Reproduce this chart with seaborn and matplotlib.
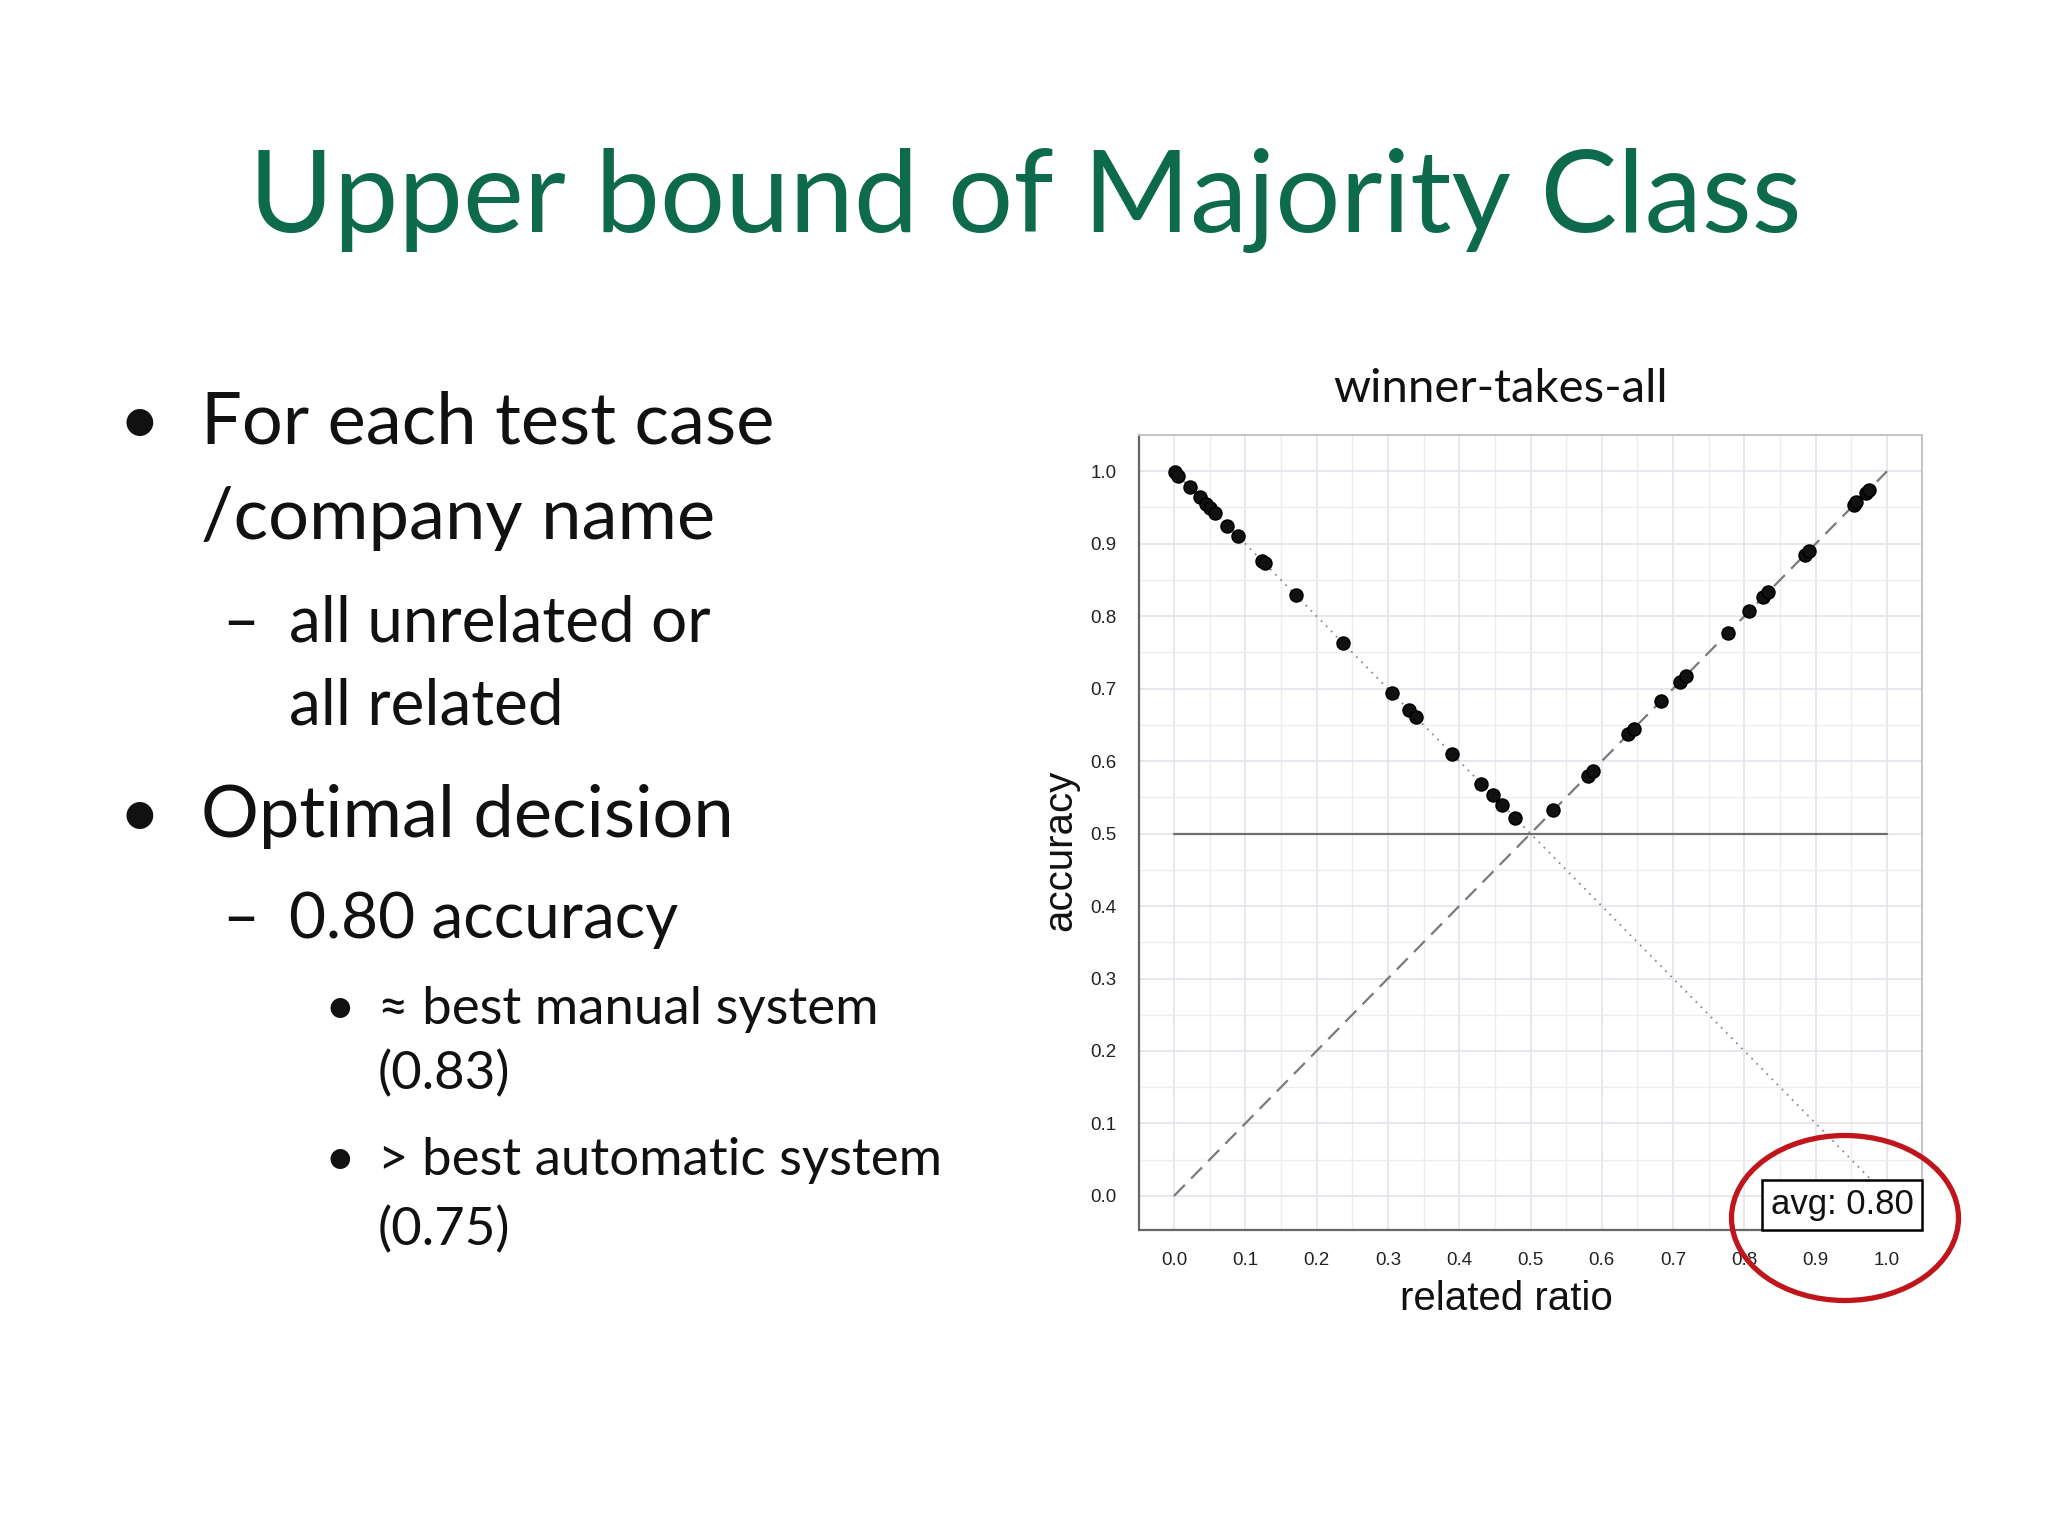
import matplotlib
matplotlib.use("Agg")
import matplotlib.pyplot as plt
from matplotlib.patches import Ellipse
from matplotlib.ticker import MultipleLocator
import seaborn as sns
import pandas as pd

# --- data ---
# left branch: accuracy = 1 - related ratio
left_ratio = [0.001, 0.006, 0.022, 0.036, 0.045, 0.051, 0.057, 0.075, 0.090, 0.124,
              0.127, 0.171, 0.237, 0.306, 0.329, 0.339, 0.390, 0.431, 0.447, 0.460, 0.478]
left_acc = [0.999, 0.994, 0.978, 0.964, 0.955, 0.949, 0.943, 0.925, 0.910, 0.876,
            0.873, 0.829, 0.763, 0.694, 0.671, 0.661, 0.610, 0.569, 0.553, 0.540, 0.522]
# right branch: accuracy = related ratio
right_ratio = [0.532, 0.580, 0.587, 0.637, 0.645, 0.683, 0.709, 0.718, 0.777, 0.807,
               0.826, 0.833, 0.885, 0.890, 0.953, 0.957, 0.970, 0.974]
right_acc = [0.532, 0.580, 0.587, 0.637, 0.645, 0.683, 0.709, 0.718, 0.777, 0.807,
             0.826, 0.833, 0.885, 0.890, 0.953, 0.957, 0.970, 0.974]

# reference lines
ref_x = [0.0, 1.0]
ref_up = [0.0, 1.0]
ref_down = [1.0, 0.0]
ref_chance = [0.5, 0.5]

tick_vals = [0.0, 0.1, 0.2, 0.3, 0.4, 0.5, 0.6, 0.7, 0.8, 0.9, 1.0]
avg_label = "avg: 0.80"

title = "Upper bound of Majority Class"
bullets = [
    # (level, text) -- level 0 means continuation line
    (1, "For each test case"),
    (0, "/company name"),
    (2, "all unrelated or"),
    (0, "all related"),
    (1, "Optimal decision"),
    (2, "0.80 accuracy"),
    (3, "\u2248 best manual system"),
    (0, "(0.83)"),
    (3, "> best automatic system"),
    (0, "(0.75)"),
]

points = pd.DataFrame({
    "ratio": left_ratio + right_ratio,
    "acc": left_acc + right_acc,
})

sns.set_theme(style="white")
plt.rcParams["font.family"] = ["Liberation Sans", "DejaVu Sans"]

fig = plt.figure(figsize=(20.48, 15.36), dpi=100)
fig.patch.set_facecolor("white")

# slide text
slide_font = ["Lato", "DejaVu Sans"]
fig.text(0.5005, 1 - 232 / 1536, title, color="#0d6a4d", fontsize=83,
         family=slide_font, ha="center", va="baseline")

baselines = [444, 539, 642, 724, 837, 938, 1024, 1089, 1175, 1245]
# level: (marker x, text x, font size) in pixels / points
levels_x = {1: (118, 201, 52), 2: (222, 289, 46), 3: (324, 378, 38)}
cur = 1
for (lvl, txt), yb in zip(bullets, baselines):
    if lvl:
        cur = lvl
        mark_x, text_x, size = levels_x[lvl]
        mark = "\u2022" if lvl != 2 else "\u2013"
        fig.text(mark_x / 2048, 1 - yb / 1536, mark, fontsize=size,
                 family=slide_font, color="#111111", va="baseline")
    else:
        mark_x, text_x, size = levels_x[cur]
    fig.text(text_x / 2048, 1 - yb / 1536, txt, fontsize=size,
             family=slide_font, color="#111111", va="baseline")

# the chart
ax = fig.add_axes([1139 / 2048, 1 - 1230 / 1536, (1922 - 1139) / 2048, (1230 - 435) / 1536])
ax.set_facecolor("white")

sns.lineplot(x=ref_x, y=ref_chance, ax=ax, color="#6e6e6e", lw=1.6)
sns.lineplot(x=ref_x, y=ref_up, ax=ax, color="#7a7a7a", lw=1.6)
ax.lines[-1].set_linestyle((0, (7, 4)))
sns.lineplot(x=ref_x, y=ref_down, ax=ax, color="#8a8a8a", lw=1.3)
ax.lines[-1].set_linestyle((0, (1, 3)))

sns.scatterplot(data=points, x="ratio", y="acc", ax=ax, color="#111111",
                s=85, edgecolor="#000000", linewidth=1.2, zorder=5)

ax.set_xlim(-0.049, 1.049)
ax.set_ylim(-0.047, 1.05)
ax.set_xticks(tick_vals)
ax.set_yticks(tick_vals)
ax.set_xticklabels([f"{v:.1f}" for v in tick_vals])
ax.set_yticklabels([f"{v:.1f}" for v in tick_vals])
ax.xaxis.set_minor_locator(MultipleLocator(0.05))
ax.yaxis.set_minor_locator(MultipleLocator(0.05))
ax.grid(which="major", color="#e3e3ea", lw=1.2)
ax.grid(which="minor", color="#ececf1", lw=1.0)
ax.set_axisbelow(True)
ax.tick_params(axis="both", which="major", labelsize=13.5, colors="#222222",
               length=6, width=1.2, direction="out", pad=10)
ax.tick_params(axis="both", which="major", color="#777777")
ax.tick_params(which="minor", length=0)
ax.set_xlabel("")
ax.set_ylabel("")
for side in ["left", "bottom"]:
    ax.spines[side].set_color("#666666")
    ax.spines[side].set_linewidth(1.6)
for side in ["top", "right"]:
    ax.spines[side].set_color("#c4c4c4")
    ax.spines[side].set_linewidth(1.4)
    ax.spines[side].set_visible(True)

ax.text(0.989, 0.011, avg_label, transform=ax.transAxes, ha="right", va="bottom",
        fontsize=25, color="#111111", zorder=6,
        bbox=dict(boxstyle="square,pad=0.25", fc="white", ec="black", lw=1.8))

# axis labels and chart title placed as on the slide
fig.text(1506 / 2048, 1 - 1310 / 1536, "related ratio", fontsize=29,
         ha="center", va="baseline", color="#111111")
fig.text(1060 / 2048, 1 - 850 / 1536, "accuracy", fontsize=29, rotation=90,
         ha="center", va="center", color="#111111")
fig.text(1501 / 2048, 1 - 389 / 1536, "winner-takes-all", fontsize=34,
         family=slide_font, ha="center", va="center", color="#111111")

# red highlight ring round the average
ring = Ellipse((1845 / 2048, 1 - 1218 / 1536), 227 / 2048, 165 / 1536,
               transform=fig.transFigure, fill=False, ec="#c0161b", lw=3.8)
fig.add_artist(ring)

fig.savefig("out.png", dpi=100, facecolor="white")
